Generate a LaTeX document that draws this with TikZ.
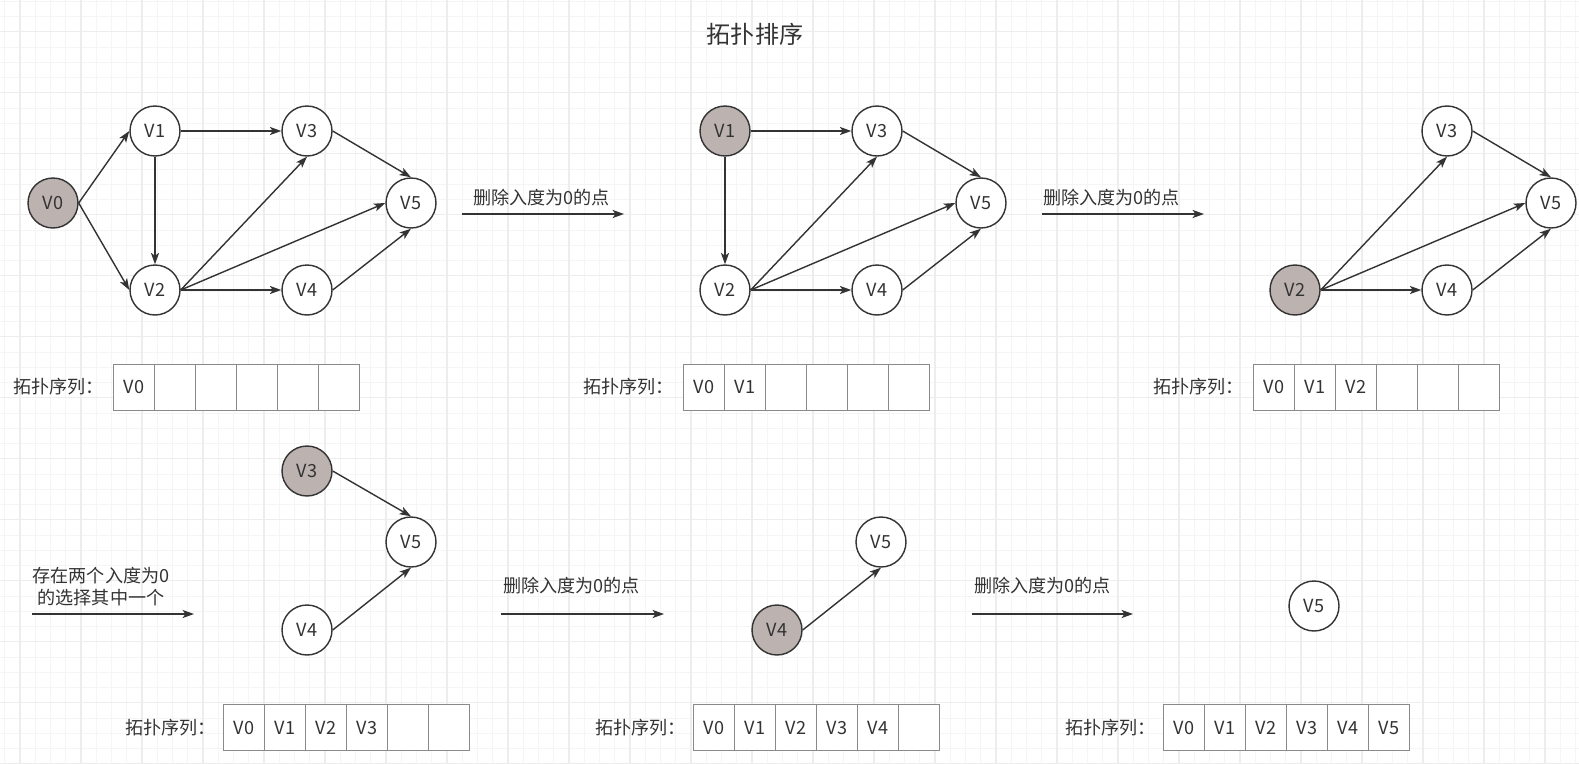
\documentclass[tikz,border=0pt]{standalone}
\usepackage{fontspec}
\setmainfont{Noto Sans CJK SC}
\usetikzlibrary{arrows.meta}

\definecolor{ink}{HTML}{333333}
\definecolor{visited}{RGB}{188,178,175}
\definecolor{gridminor}{HTML}{F5F5F5}
\definecolor{gridmajor}{HTML}{EDEDED}
\definecolor{cellline}{HTML}{8A8A8A}

\begin{document}
\begin{tikzpicture}[x=0.02cm,y=-0.02cm,
                    font=\fontsize{10.3}{12.5}\selectfont, text=ink]
\useasboundingbox (0,0) rectangle (1579,764);

% background grid
\foreach \i in {-1,...,103}
    \draw[gridminor,line width=0.5pt] ({20+15.25*\i},0) -- ({20+15.25*\i},764);
\foreach \i in {-2,...,48}
    \draw[gridminor,line width=0.5pt] (0,{31.7+15.25*\i}) -- (1579,{31.7+15.25*\i});
\foreach \i in {0,...,25}
    \draw[gridmajor,line width=0.75pt] ({20+61*\i},0) -- ({20+61*\i},764);
\foreach \i in {0,...,12}
    \draw[gridmajor,line width=0.75pt] (0,{31.7+61*\i}) -- (1579,{31.7+61*\i});

\node (title) at (755,34) {\fontsize{13.7}{16}\selectfont 拓扑排序};

\begin{scope}[every node/.style={circle,draw=ink,line width=0.8pt,fill=white,
                                 minimum size=1cm,inner sep=0pt}]
    % step 1
    \node[fill=visited] (a0) at (53,203) {V0};
    \node (a1) at (155,131) {V1};
    \node (a2) at (155,290) {V2};
    \node (a3) at (307,131) {V3};
    \node (a4) at (307,290) {V4};
    \node (a5) at (411,203) {V5};
    % step 2
    \node[fill=visited] (b1) at (725,131) {V1};
    \node (b2) at (725,290) {V2};
    \node (b3) at (877,131) {V3};
    \node (b4) at (877,290) {V4};
    \node (b5) at (981,203) {V5};
    % step 3
    \node[fill=visited] (c2) at (1295,290) {V2};
    \node (c3) at (1447,131) {V3};
    \node (c4) at (1447,290) {V4};
    \node (c5) at (1551,203) {V5};
    % step 4
    \node[fill=visited] (d3) at (307,471) {V3};
    \node (d4) at (307,630) {V4};
    \node (d5) at (411,542) {V5};
    % step 5
    \node[fill=visited] (e4) at (777,630) {V4};
    \node (e5) at (881,542) {V5};
    % step 6
    \node (f5) at (1314,606) {V5};
\end{scope}

\begin{scope}[>={Stealth[length=6.5pt,width=4.6pt,inset=1.6pt]},
              every edge/.style={draw=ink, line width=0.8pt}]
    \path [->] (a0.east) edge (a1.west);
    \path [->] (a0.east) edge (a2.west);
    \path [->] (a1.east) edge (a3.west);
    \path [->] (a1.south) edge (a2.north);
    \path [->] (a2.east) edge (a3.south);
    \path [->] (a2.east) edge (a5.west);
    \path [->] (a2.east) edge (a4.west);
    \path [->] (a3.east) edge (a5.north);
    \path [->] (a4.east) edge (a5.south);

    \path [->] (b1.east) edge (b3.west);
    \path [->] (b1.south) edge (b2.north);
    \path [->] (b2.east) edge (b3.south);
    \path [->] (b2.east) edge (b5.west);
    \path [->] (b2.east) edge (b4.west);
    \path [->] (b3.east) edge (b5.north);
    \path [->] (b4.east) edge (b5.south);

    \path [->] (c2.east) edge (c3.south);
    \path [->] (c2.east) edge (c5.west);
    \path [->] (c2.east) edge (c4.west);
    \path [->] (c3.east) edge (c5.north);
    \path [->] (c4.east) edge (c5.south);

    \path [->] (d3.east) edge (d5.north);
    \path [->] (d4.east) edge (d5.south);

    \path [->] (e4.east) edge (e5.south);

    % step arrows
    \coordinate (s1a) at (462,214);  \coordinate (s1b) at (624,214);
    \coordinate (s2a) at (1042,214); \coordinate (s2b) at (1204,214);
    \coordinate (s3a) at (32,614);   \coordinate (s3b) at (194,614);
    \coordinate (s4a) at (501,614);  \coordinate (s4b) at (664,614);
    \coordinate (s5a) at (972,614);  \coordinate (s5b) at (1133,614);
    \path [->] (s1a) edge (s1b);
    \path [->] (s2a) edge (s2b);
    \path [->] (s3a) edge (s3b);
    \path [->] (s4a) edge (s4b);
    \path [->] (s5a) edge (s5b);
\end{scope}

\node[anchor=west,inner sep=0pt] (t1) at (473,198) {删除入度为0的点};
\node[anchor=west,inner sep=0pt] (t2) at (1043,198) {删除入度为0的点};
\node[align=center,inner sep=0pt] (t3) at (101,587) {存在两个入度为0\\的选择其中一个};
\node[anchor=west,inner sep=0pt] (t4) at (503,586) {删除入度为0的点};
\node[anchor=west,inner sep=0pt] (t5) at (974,586) {删除入度为0的点};

% topological sequences
\foreach \sx/\sy/\lx/\m [count=\s] in {113.5/387/13/1, 683.5/387/583/2, 1253.5/387/1153/3,
                                     223.5/727.5/125/4, 693.5/727.5/595/5, 1163.5/727.5/1065/6} {
    \node[anchor=west,inner sep=0pt] (lab\s) at (\lx,\sy) {拓扑序列：};
    \foreach \k in {1,...,6} {
        \pgfmathtruncatemacro\j{\k-1}
        \node[draw=cellline,line width=0.55pt,fill=white,minimum width=0.82cm,
              minimum height=0.92cm,inner sep=0pt,outer sep=0pt]
            (seq\s-\k) at ({\sx+41*(\k-0.5)},\sy) {\ifnum\k>\m\else V\j\fi};
    }
}
\end{tikzpicture}
\end{document}
